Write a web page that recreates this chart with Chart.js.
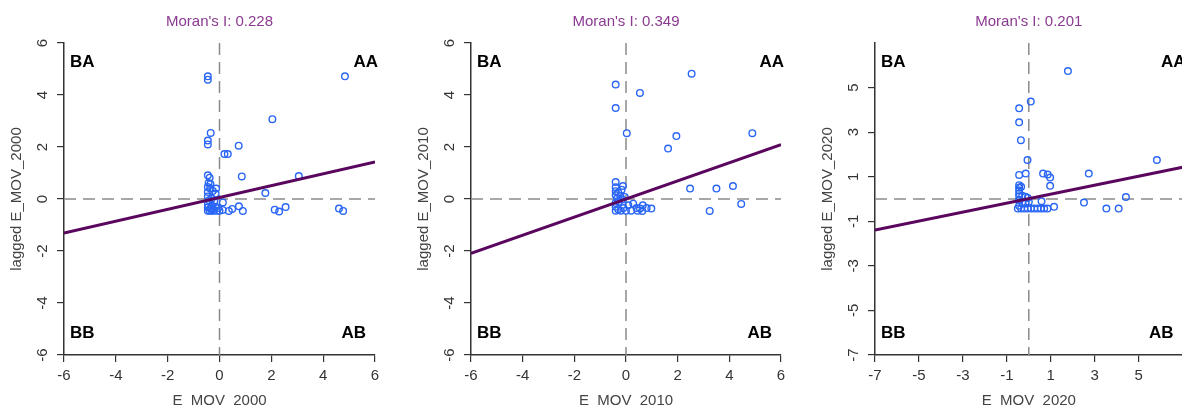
<!DOCTYPE html>
<html>
<head>
<meta charset="utf-8">
<script src="https://cdn.jsdelivr.net/npm/chart.js@4.4.0/dist/chart.umd.min.js"></script>
<style>
  html, body { margin: 0; padding: 0; background: #fff; overflow: hidden; width: 1182px; height: 407px; }
  .panel { position: absolute; top: 0; height: 410px; }
</style>
</head>
<body>
<div class="panel" style="left:0px"><canvas id="c2000" width="394" height="410"></canvas></div>
<div class="panel" style="left:394px"><canvas id="c2010" width="394" height="410"></canvas></div>
<div class="panel" style="left:788px"><canvas id="c2020" width="400" height="410"></canvas></div>
<script>
/* valores */
var moranI = [0.228, 0.349, 0.201];
var intercepts = [0.06, 0, 0.02];
var xTitles = ["E_MOV_2000", "E_MOV_2010", "E_MOV_2020"];
var yTitles = ["lagged E_MOV_2000", "lagged E_MOV_2010", "lagged E_MOV_2020"];
var ticksA = [-6, -4, -2, 0, 2, 4, 6];
var ticksB = [-7, -5, -3, -1, 1, 3, 5];
var limA = [-6, 6];
var limB = [-7, 7];
var quadLabels = ["BA", "AA", "BB", "AB"];

var x2000 = [-0.45, -0.45, 4.84, 2.04, -0.34, -0.45, -0.45, 0.74, 0.19, 0.32, 0.86, 3.06, 1.77, 2.13, 2.30, 2.55, 4.61, 4.77, 0.75, 0.90, 0.36, 0.49, 0.13,
  -0.45, -0.38, -0.42, -0.35, -0.45, -0.36, -0.45, -0.26, -0.13, -0.15, -0.45, -0.40, -0.30, -0.20, -0.45, -0.30, -0.45, -0.35, -0.25, -0.15, -0.45, -0.38, -0.30, -0.22, -0.10, 0.00, 0.12, -0.05];
var y2000 = [4.72, 4.59, 4.72, 3.07, 2.54, 2.25, 2.10, 2.05, 1.73, 1.73, 0.87, 0.88, 0.23, -0.41, -0.48, -0.31, -0.37, -0.46, -0.28, -0.46, -0.46, -0.38, -0.13,
  0.91, 0.82, 0.62, 0.58, 0.46, 0.40, 0.27, 0.31, 0.40, 0.21, 0.10, -0.05, 0.02, -0.08, -0.20, -0.25, -0.32, -0.36, -0.38, -0.30, -0.45, -0.45, -0.45, -0.45, -0.45, -0.45, -0.42, -0.35];

var x2010 = [-0.40, 0.54, 2.54, -0.40, 0.03, 1.95, 1.63, 4.89, 2.48, 3.50, 4.14, 4.46, 3.24, 0.98, 0.63,
  -0.40, -0.12, -0.17, -0.40, -0.40, -0.30, -0.40, -0.22, -0.35, -0.15, -0.40, -0.28, -0.40, -0.30, -0.40, -0.20, -0.10, 0.00, 0.09, 0.28, 0.41, 0.54, 0.65, 0.80, 0.20, 0.45, -0.05];
var y2010 = [4.40, 4.08, 4.82, 3.50, 2.53, 2.42, 1.94, 2.53, 0.40, 0.40, 0.50, -0.19, -0.46, -0.37, -0.46,
  0.65, 0.50, 0.36, 0.45, 0.30, 0.25, 0.15, 0.12, 0.02, -0.02, -0.15, -0.12, -0.30, -0.40, -0.45, -0.45, -0.35, -0.45, -0.24, -0.18, -0.35, -0.37, -0.24, -0.35, -0.45, -0.45, 0.08];

var x2020 = [1.78, 0.09, -0.44, -0.44, -0.36, -0.06, 5.83, 2.73, 0.65, 0.97, 0.97, -0.44, -0.14, 4.42, 2.51, 3.53, 4.09, 1.15, 0.58, 0.86,
  -0.44, -0.44, -0.44, -0.44, -0.35, -0.44, -0.30, -0.15, -0.05, -0.44, -0.30, -0.15, 0.00, -0.44,
  -0.50, -0.35, -0.20, -0.05, 0.10, 0.25, 0.40, 0.55, 0.70, 0.85];
var y2020 = [5.74, 4.37, 4.07, 3.44, 2.64, 1.75, 1.75, 1.14, 1.14, 0.96, 0.59, 1.08, 1.14, 0.09, -0.16, -0.43, -0.43, -0.35, -0.10, 1.10,
  0.62, 0.50, 0.38, 0.25, 0.55, 0.12, 0.15, 0.10, 0.05, -0.05, -0.15, -0.20, -0.12, -0.30,
  -0.43, -0.43, -0.43, -0.43, -0.43, -0.43, -0.43, -0.43, -0.43, -0.43];

var FONT = 'Arial, "Liberation Sans", sans-serif';
Chart.defaults.font.family = FONT;

/* titulo y cuadrantes */
var overlay = {
    id: 'overlay',
    afterDraw: function(chart, args, opts) {
        const ctx = chart.ctx;
        const a = chart.chartArea;
        ctx.save();
        ctx.fillStyle = "#8a3a90";
        ctx.font = "15px " + FONT;
        ctx.textAlign = "center";
        ctx.textBaseline = "middle";
        ctx.fillText("Moran's I: " + opts.moran.toFixed(3), (a.left + a.right) / 2, 22);

        ctx.fillStyle = "#000";
        ctx.font = "bold 17px " + FONT;
        ctx.textAlign = "left";
        ctx.fillText(quadLabels[0], a.left + 6, a.top + 19);
        ctx.fillText(quadLabels[2], a.left + 6, a.bottom - 22);
        ctx.textAlign = "right";
        ctx.fillText(quadLabels[1], a.right + 3, a.top + 19);
        ctx.fillText(quadLabels[3], a.right - 9, a.bottom - 22);
        ctx.restore();
    }
};

function makePanel(id, xs, ys, k, lim, ticks, padLeft, padRight) {
    var pts = [];
    var i;
    for (i = 0; i < xs.length; i++) {
        pts.push({ x: xs[i], y: ys[i] });
    }
    var reg = [
        { x: lim[0], y: moranI[k] * lim[0] + intercepts[k] },
        { x: lim[1], y: moranI[k] * lim[1] + intercepts[k] }
    ];

    var axisCommon = {
        type: 'linear',
        min: lim[0],
        max: lim[1],
        afterBuildTicks: function(s) {
            s.ticks = ticks.map(function(v) { return { value: v }; });
        },
        grid: { display: true, drawOnChartArea: false, drawTicks: true, tickLength: 7, color: '#333', lineWidth: 1.2 },
        border: { display: true, color: '#333', width: 1.5 }
    };

    return new Chart(document.getElementById(id), {
        type: 'scatter',
        data: {
            datasets: [{
                data: reg,
                showLine: true,
                borderColor: '#5a065e',
                borderWidth: 3,
                pointRadius: 0,
                order: 0
            }, {
                data: pts,
                pointStyle: 'circle',
                pointRadius: 3.3,
                pointBorderWidth: 1.4,
                borderColor: '#2a66f5',
                backgroundColor: 'rgba(0,0,0,0)',
                order: 1
            }, {
                data: [{ x: lim[0], y: 0 }, { x: lim[1], y: 0 }],
                showLine: true,
                borderColor: '#8a8a8a',
                borderWidth: 1.5,
                borderDash: [12, 7],
                pointRadius: 0,
                order: 2
            }, {
                data: [{ x: 0, y: lim[1] }, { x: 0, y: lim[0] }],
                showLine: true,
                borderColor: '#8a8a8a',
                borderWidth: 1.5,
                borderDash: [12, 7],
                pointRadius: 0,
                order: 2
            }]
        },
        options: {
            responsive: false,
            animation: false,
            layout: { padding: { top: 43, left: padLeft, right: padRight, bottom: 0 } },
            plugins: {
                legend: { display: false },
                tooltip: { enabled: false },
                overlay: { moran: moranI[k] }
            },
            scales: {
                x: Object.assign({}, axisCommon, {
                    afterFit: function(s) { s.height = 55; s.paddingLeft = 0; s.paddingRight = 0; },
                    ticks: { font: { size: 15 }, color: '#333', padding: 5, maxRotation: 0, autoSkip: false,
                        callback: function(v) { return String(v); } },
                    title: { display: true, text: xTitles[k], font: { size: 15 }, color: '#444', padding: { top: 0, bottom: 0 } }
                }),
                y: Object.assign({}, axisCommon, {
                    afterFit: function(s) { s.width = 64; s.paddingTop = 0; s.paddingBottom = 0; },
                    ticks: { font: { size: 15 }, color: '#333', padding: 7, minRotation: 90, maxRotation: 90,
                        crossAlign: 'center', autoSkip: false,
                        callback: function(v) { return String(v); } },
                    title: { display: true, text: yTitles[k], font: { size: 15 }, color: '#444', padding: { top: 8, bottom: 0 } }
                })
            }
        },
        plugins: [overlay]
    });
}

makePanel("c2000", x2000, y2000, 0, limA, ticksA, 0, 19);
makePanel("c2010", x2010, y2010, 1, limA, ticksA, 13, 7);
makePanel("c2020", x2020, y2020, 2, limB, ticksB, 23, 4);
</script>
</body>
</html>
